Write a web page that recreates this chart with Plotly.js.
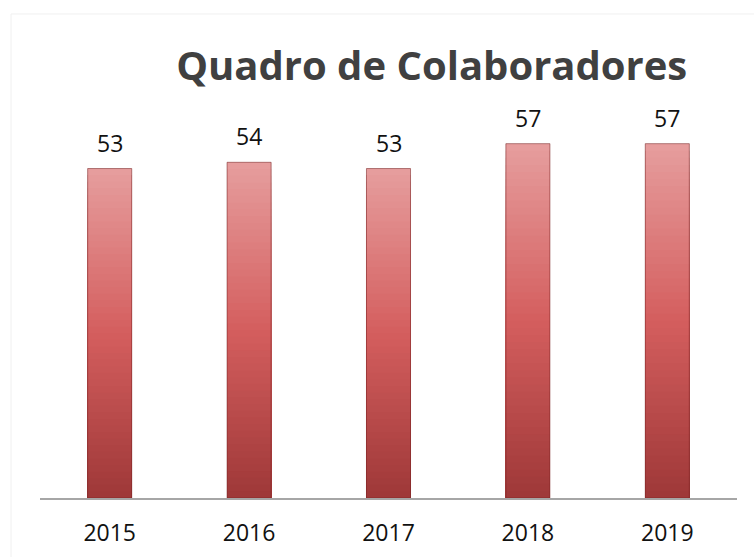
<!DOCTYPE html>
<html>
<head>
<meta charset="utf-8">
<script src="https://cdn.plot.ly/plotly-3.0.1.min.js"></script>
<style>html,body{margin:0;padding:0;background:#fff;}</style>
</head>
<body>
<div id="chart" style="width:754px;height:557px;"></div>
<script>
const years = ['2015', '2016', '2017', '2018', '2019'];
const colaboradores = [53, 54, 53, 57, 57];
const chartTitle = 'Quadro de Colaboradores';

// gradient stops (bottom -> middle -> top)
const stops = [[158, 56, 56], [212, 94, 94], [230, 158, 158]];
function gradColor(t) {
  let a, b, u;
  if (t < 0.5) { a = stops[0]; b = stops[1]; u = t / 0.5; }
  else { a = stops[1]; b = stops[2]; u = (t - 0.5) / 0.5; }
  const c = a.map((v, i) => Math.round(v + (b[i] - v) * u));
  return 'rgb(' + c.join(',') + ')';
}

// Overlapping bars from the baseline, tallest first, so the gradient has no seams.
const N = 50;
const traces = [];
for (let i = 0; i < N; i++) {
  const frac = (N - i) / N;
  traces.push({
    type: 'bar',
    x: years,
    y: colaboradores.map(v => v * frac),
    marker: { color: gradColor(frac - 0.5 / N), line: { width: 0 } },
    hoverinfo: 'skip',
    showlegend: false
  });
}
traces.push({
  type: 'bar',
  x: years,
  y: colaboradores,
  marker: { color: 'rgba(0,0,0,0)', line: { color: 'rgba(120,35,35,0.55)', width: 1 } },
  showlegend: false
});

const FONT = '"Open Sans", Lato, sans-serif';
const annotations = years.map((yr, i) => ({
  x: i, y: colaboradores[i], xref: 'x', yref: 'y',
  text: String(colaboradores[i]), showarrow: false,
  yshift: 26, font: { family: FONT, size: 23, color: '#111' }
}));

const layout = {
  width: 754, height: 557,
  margin: { l: 40, r: 17, t: 125, b: 59 },
  paper_bgcolor: '#ffffff', plot_bgcolor: '#ffffff',
  barmode: 'overlay',
  bargap: 0.684,
  title: {
    text: '<b>' + chartTitle + '</b>',
    font: { family: FONT, size: 40, color: '#404040' },
    xref: 'paper', x: 0.562, xanchor: 'center',
    yref: 'container', y: 0.881, yanchor: 'middle'
  },
  xaxis: {
    type: 'category', range: [-0.5, 4.5],
    showgrid: false, zeroline: false,
    showline: true, linecolor: '#a6a6a6', linewidth: 2,
    ticks: '', ticklabelstandoff: 13,
    tickfont: { family: FONT, size: 23, color: '#111' }
  },
  yaxis: {
    range: [0, 60], visible: false, showgrid: false, zeroline: false, fixedrange: true
  },
  annotations: annotations,
  shapes: [{
    type: 'rect', xref: 'paper', yref: 'paper',
    x0: -0.0416, x1: 1.1, y0: -0.3, y1: 1.2976,
    line: { color: '#f0f0f0', width: 1 }, fillcolor: 'rgba(0,0,0,0)', layer: 'below'
  }]
};

Plotly.newPlot('chart', traces, layout, { displayModeBar: false, staticPlot: true });
</script>
</body>
</html>
